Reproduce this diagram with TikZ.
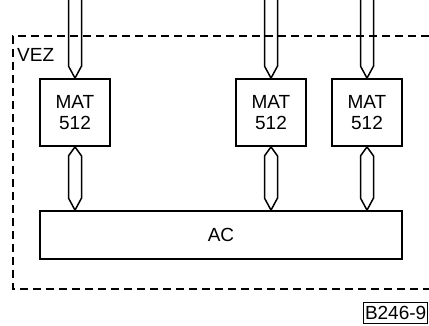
\documentclass[tikz,border=0pt]{standalone}
\usepackage{fontspec}
\setmainfont{Liberation Sans}
\usetikzlibrary{calc}
\begin{document}
\begin{tikzpicture}[x=1pt,y=-1pt,
  every node/.style={font=\fontsize{19}{21}\selectfont},
  blk/.style={draw,line width=1.8pt,inner sep=0pt},
  matbox/.style={blk,minimum width=70pt,minimum height=67pt,align=center},
  bus/.style={line width=1.5pt,line join=miter},
  frame/.style={line width=1.3pt,dash pattern=on 8pt off 5pt}]
\useasboundingbox (0,0) rectangle (429,326);
% frame
\draw[frame] (429,36) -- (13,36) -- (13,289) -- (429,289);
\node[anchor=base west,inner sep=0pt] (vez) at (17,62) {VEZ};
% blocks
\node[matbox] (m1) at (75,112.5) {MAT\\512};
\node[matbox] (m2) at (271,112.5) {MAT\\512};
\node[matbox] (m3) at (367,112.5) {MAT\\512};
\node[blk,minimum width=362pt,minimum height=48pt] (ac) at (221,235) {AC};
% buses
\foreach \m in {m1,m2,m3}{
  \coordinate (top\m) at ($(\m.north)+(0,-85)$);
  \draw[bus] ($(top\m)+(-6.5,0)$) -- ($(\m.north)+(-6.5,-12)$) -- (\m.north)
    -- ($(\m.north)+(6.5,-12)$) -- ($(top\m)+(6.5,0)$);
  \coordinate (bot\m) at (\m.south |- ac.north);
  \draw[bus] (\m.south) -- ($(\m.south)+(-6.5,9)$) -- ($(bot\m)+(-6.5,-12)$)
    -- (bot\m) -- ($(bot\m)+(6.5,-12)$) -- ($(\m.south)+(6.5,9)$) -- cycle;
}
% label
\node[draw,line width=1pt,anchor=west,inner xsep=1.5pt,inner ysep=1pt,minimum height=20pt,font=\fontsize{19}{21}\selectfont] (lbl) at (363,313) {B246-9};
\end{tikzpicture}
\end{document}
